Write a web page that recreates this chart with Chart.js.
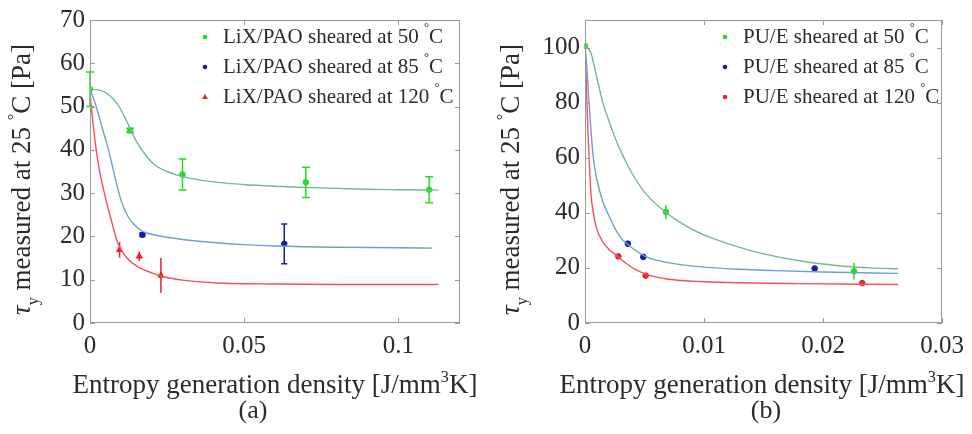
<!DOCTYPE html>
<html>
<head>
<meta charset="utf-8">
<script src="https://cdn.jsdelivr.net/npm/chart.js@4.4.0/dist/chart.umd.min.js"></script>
<style>
body { margin: 0; background: #fff; }
#wrap { position: relative; width: 972px; height: 434px; }
canvas { position: absolute; top: 0; }
#chart_a { left: 0; }
#chart_b { left: 486px; }
</style>
</head>
<body>
<div id="wrap">
<canvas id="chart_a" width="486" height="434"></canvas>
<canvas id="chart_b" width="486" height="434"></canvas>
</div>
<script>
// ---- panel (a): LiX/PAO ----
var lixXTicks = [0, 0.05, 0.1];
var lixXLabels = ['0', '0.05', '0.1'];
var lixYTicks = [0, 10, 20, 30, 40, 50, 60, 70];

var lixX50 = [0, 0.013, 0.030, 0.070, 0.110];
var lixY50 = [54, 44.5, 34.3, 32.5, 30.8];
var lixE50 = [4, 0.5, 3.6, 3.5, 3];
var lixX85 = [0.017, 0.063];
var lixY85 = [20.4, 18.3];
var lixE85 = [0.4, 4.6];
var lixX120 = [0.0096, 0.016, 0.023];
var lixY120 = [16.9, 15.4, 11];
var lixE120 = [1.8, 1.1, 4];

var lixFitX50 = [0, 0.003, 0.006, 0.009, 0.012, 0.015, 0.018, 0.021, 0.025, 0.03, 0.04, 0.05, 0.06, 0.07, 0.08, 0.09, 0.1, 0.113];
var lixFitY50 = [54, 53.8, 52.8, 50.5, 46.5, 42, 38.8, 36.5, 35, 33.8, 32.6, 32, 31.6, 31.3, 31.1, 30.9, 30.8, 30.7];
var lixFitX85 = [0, 0.002, 0.004, 0.006, 0.008, 0.010, 0.012, 0.014, 0.017, 0.02, 0.025, 0.03, 0.04, 0.05, 0.06, 0.08, 0.1, 0.111];
var lixFitY85 = [54, 50, 45, 40, 34, 28.5, 25, 23, 21.2, 20.5, 19.8, 19.3, 18.6, 18.1, 17.8, 17.5, 17.4, 17.3];
var lixFitX120 = [0, 0.001, 0.002, 0.003, 0.005, 0.007, 0.009, 0.012, 0.016, 0.02, 0.025, 0.03, 0.04, 0.06, 0.08, 0.113];
var lixFitY120 = [53, 46, 40, 35.5, 29, 23.5, 18.5, 15, 12.8, 11.6, 10.5, 9.9, 9.3, 9.0, 8.9, 8.9];

// ---- panel (b): PU/E ----
var pueXTicks = [0, 0.01, 0.02, 0.03];
var pueXLabels = ['0', '0.01', '0.02', '0.03'];
var pueYTicks = [0, 20, 40, 60, 80, 100];

var pueX50 = [0, 0.0068, 0.0226];
var pueY50 = [100.5, 40.3, 18.8];
var pueE50 = [1, 2.5, 3];
var pueX85 = [0.0036, 0.0049, 0.0193];
var pueY85 = [28.8, 24, 19.8];
var pueE85 = [1, 0.8, 0.6];
var pueX120 = [0.0028, 0.0051, 0.0233];
var pueY120 = [24.2, 17.2, 14.5];
var pueE120 = [0.5, 0.4, 0.8];

var pueFitX50 = [0, 0.0005, 0.001, 0.0015, 0.002, 0.0025, 0.003, 0.0035, 0.004, 0.005, 0.006, 0.007, 0.008, 0.009, 0.01, 0.012, 0.014, 0.016, 0.018, 0.02, 0.022, 0.024, 0.0263];
var pueFitY50 = [101, 98, 89, 80, 73.5, 67.5, 62.5, 58, 54, 47.5, 43, 39.5, 36.5, 34, 32, 28.8, 26.2, 24.2, 22.6, 21.4, 20.5, 20, 19.7];
var pueFitX85 = [0, 0.0002, 0.0004, 0.0007, 0.001, 0.0015, 0.002, 0.0025, 0.003, 0.0036, 0.0042, 0.005, 0.006, 0.008, 0.01, 0.013, 0.016, 0.02, 0.0263];
var pueFitY85 = [101, 90, 76, 60, 52, 44, 39, 34.5, 31, 28.5, 26.5, 24.3, 22.8, 21.2, 20.3, 19.5, 19, 18.5, 18];
var pueFitX120 = [0, 0.0001, 0.0002, 0.0003, 0.0005, 0.0007, 0.001, 0.0015, 0.002, 0.0028, 0.0035, 0.0045, 0.0055, 0.007, 0.01, 0.013, 0.018, 0.0263];
var pueFitY120 = [101, 88, 75, 64, 47, 40, 34, 29.5, 26.8, 24, 21.5, 18.8, 17.2, 15.9, 15, 14.6, 14.3, 14];

var SERIF = '"Liberation Serif", "Times New Roman", serif';
var TEXT = '#2b2b2b';
var GREEN_PT = '#22dd22', GREEN_LN = '#74b892';
var BLUE_PT = '#1a1aa8', BLUE_LN = '#6d9ed8';
var RED_PT = '#e8202a', RED_LN = '#f4505c';

function toPoints(xs, ys) {
	return xs.map(function(x, i) { return { x: x, y: ys[i] }; });
}

function pointSet(xs, ys, errs, color, style, cap) {
	return {
		data: toPoints(xs, ys),
		showLine: false,
		backgroundColor: color,
		borderColor: color,
		pointStyle: style,
		pointRadius: style == 'triangle' ? 3.5 : 2.8,
		borderWidth: 1,
		errors: errs,
		capWidth: cap
	};
}

function curveSet(xs, ys, color) {
	return {
		data: toPoints(xs, ys),
		showLine: true,
		borderColor: color,
		borderWidth: 1.4,
		pointRadius: 0,
		fill: false,
		cubicInterpolationMode: 'monotone'
	};
}

// draw text with raised / lowered small pieces (degree sign, cube, subscript)
function drawParts(ctx, parts, x, y, size) {
	var cx = x;
	parts.forEach(function(p) {
		var s = p.small ? size * 0.6 : size;
		ctx.font = (p.italic ? 'italic ' : '') + s + 'px ' + SERIF;
		var dy = p.sup ? -size * 0.42 : (p.sub ? size * 0.3 : 0);
		ctx.fillText(p.t, cx, y + dy);
		cx += ctx.measureText(p.t).width;
	});
	return cx - x;
}

function partsWidth(ctx, parts, size) {
	var w = 0;
	parts.forEach(function(p) {
		var s = p.small ? size * 0.6 : size;
		ctx.font = (p.italic ? 'italic ' : '') + s + 'px ' + SERIF;
		w += ctx.measureText(p.t).width;
	});
	return w;
}

function panelPlugin(info) {
	return {
		id: 'panel',
		beforeDatasetsDraw: function(chart) {
			//error bars
			var ctx = chart.ctx;
			var xs = chart.scales.x, ys = chart.scales.y;
			ctx.save();
			chart.data.datasets.forEach(function(ds) {
				if (!ds.errors) return;
				ctx.strokeStyle = ds.borderColor;
				ctx.lineWidth = 1.5;
				ds.data.forEach(function(p, i) {
					var px = xs.getPixelForValue(p.x);
					var t = ys.getPixelForValue(p.y + ds.errors[i]);
					var b = ys.getPixelForValue(p.y - ds.errors[i]);
					ctx.beginPath();
					ctx.moveTo(px, t);
					ctx.lineTo(px, b);
					if (ds.capWidth) {
						ctx.moveTo(px - ds.capWidth, t);
						ctx.lineTo(px + ds.capWidth, t);
						ctx.moveTo(px - ds.capWidth, b);
						ctx.lineTo(px + ds.capWidth, b);
					}
					ctx.stroke();
				});
			});
			ctx.restore();
		},
		afterDraw: function(chart) {
			var ctx = chart.ctx;
			var a = chart.chartArea;
			var xs = chart.scales.x, ys = chart.scales.y;
			ctx.save();

			//box + inward ticks
			ctx.strokeStyle = '#9a9a9a';
			ctx.lineWidth = 1;
			ctx.strokeRect(a.left + 0.5, a.top + 0.5, a.right - a.left - 1, a.bottom - a.top - 1);
			ctx.beginPath();
			ys.ticks.forEach(function(t) {
				var py = Math.round(ys.getPixelForValue(t.value)) + 0.5;
				ctx.moveTo(a.left, py); ctx.lineTo(a.left + 5, py);
				ctx.moveTo(a.right, py); ctx.lineTo(a.right - 5, py);
			});
			xs.ticks.forEach(function(t) {
				var px = Math.round(xs.getPixelForValue(t.value)) + 0.5;
				ctx.moveTo(px, a.bottom); ctx.lineTo(px, a.bottom - 5);
				ctx.moveTo(px, a.top); ctx.lineTo(px, a.top + 5);
			});
			ctx.stroke();

			//legend
			ctx.textBaseline = 'middle';
			ctx.textAlign = 'left';
			info.legend.forEach(function(row, i) {
				var ry = info.legendY + i * info.legendGap;
				ctx.fillStyle = row.color;
				ctx.beginPath();
				if (row.style == 'triangle') {
					ctx.moveTo(info.legendMarkX, ry - 3);
					ctx.lineTo(info.legendMarkX + 3, ry + 2);
					ctx.lineTo(info.legendMarkX - 3, ry + 2);
					ctx.closePath();
				} else {
					ctx.arc(info.legendMarkX, ry, 2.3, 0, Math.PI * 2);
				}
				ctx.fill();
				ctx.fillStyle = TEXT;
				drawParts(ctx, [
					{ t: row.text + ' ' },
					{ t: '\u00b0', small: true, sup: true },
					{ t: 'C' }
				], info.legendTextX, ry, 21);
			});

			//x axis title
			var xParts = [
				{ t: 'Entropy generation density [J/mm' },
				{ t: '3', small: true, sup: true },
				{ t: 'K]' }
			];
			ctx.textBaseline = 'alphabetic';
			var w = partsWidth(ctx, xParts, 27);
			drawParts(ctx, xParts, info.xTitleX - w / 2, 393, 27);

			//panel label
			ctx.font = '26px ' + SERIF;
			ctx.textAlign = 'center';
			ctx.fillText(info.panel, info.panelX, 418);
			ctx.textAlign = 'left';

			//y axis title, rotated
			var yParts = [
				{ t: '\u03c4', italic: true },
				{ t: 'y', sub: true, small: true },
				{ t: ' measured at 25 ' },
				{ t: '\u00b0', small: true, sup: true },
				{ t: 'C [Pa]' }
			];
			var yw = partsWidth(ctx, yParts, 27);
			ctx.translate(info.yTitleX, (a.top + a.bottom) / 2 + 8);
			ctx.rotate(-Math.PI / 2);
			drawParts(ctx, yParts, -yw / 2, 0, 27);
			ctx.restore();
		}
	};
}

function makeChart(id, datasets, sc, info) {
	var ctx = document.getElementById(id).getContext('2d');
	return new Chart(ctx, {
		type: 'scatter',
		data: { datasets: datasets },
		options: {
			responsive: false,
			animation: false,
			devicePixelRatio: 1,
			layout: { padding: { top: 15, right: sc.padRight, left: 0, bottom: 0 } },
			plugins: { legend: { display: false }, tooltip: { enabled: false } },
			scales: {
				x: {
					type: 'linear',
					min: 0,
					max: sc.xMax,
					grid: { display: false, drawTicks: false },
					border: { display: false },
					afterBuildTicks: function(s) { s.ticks = sc.xTicks.map(function(v) { return { value: v }; }); },
					afterFit: function(s) { s.height = 111; },
					ticks: {
						padding: 8,
						color: TEXT,
						font: { family: SERIF, size: 25 },
						maxRotation: 0,
						callback: function(v, i) { return sc.xLabels[i]; }
					}
				},
				y: {
					type: 'linear',
					min: 0,
					max: sc.yMax,
					grid: { display: false, drawTicks: false },
					border: { display: false },
					afterBuildTicks: function(s) { s.ticks = sc.yTicks.map(function(v) { return { value: v }; }); },
					afterFit: function(s) { s.width = sc.yWidth; },
					ticks: {
						padding: 5,
						color: TEXT,
						font: { family: SERIF, size: 25 },
						callback: function(v) { return String(v); }
					}
				}
			}
		},
		plugins: [panelPlugin(info)]
	});
}

window.onload = function() {
	makeChart('chart_a', [
		curveSet(lixFitX50, lixFitY50, GREEN_LN),
		curveSet(lixFitX85, lixFitY85, BLUE_LN),
		curveSet(lixFitX120, lixFitY120, RED_LN),
		pointSet(lixX50, lixY50, lixE50, GREEN_PT, 'circle', 4),
		pointSet(lixX85, lixY85, lixE85, BLUE_PT, 'circle', 3),
		pointSet(lixX120, lixY120, lixE120, RED_PT, 'triangle', 0)
	], {
		xMax: 0.12, yMax: 70, xTicks: lixXTicks, xLabels: lixXLabels, yTicks: lixYTicks,
		yWidth: 90, padRight: 26
	}, {
		legend: [
			{ text: 'LiX/PAO sheared at 50', color: GREEN_PT, style: 'circle' },
			{ text: 'LiX/PAO sheared at 85', color: BLUE_PT, style: 'circle' },
			{ text: 'LiX/PAO sheared at 120', color: RED_PT, style: 'triangle' }
		],
		legendMarkX: 205, legendTextX: 223, legendY: 37, legendGap: 30,
		xTitleX: 275, panel: '(a)', panelX: 253, yTitleX: 30
	});

	makeChart('chart_b', [
		curveSet(pueFitX50, pueFitY50, GREEN_LN),
		curveSet(pueFitX85, pueFitY85, BLUE_LN),
		curveSet(pueFitX120, pueFitY120, RED_LN),
		pointSet(pueX50, pueY50, pueE50, GREEN_PT, 'circle', 0),
		pointSet(pueX85, pueY85, pueE85, BLUE_PT, 'circle', 0),
		pointSet(pueX120, pueY120, pueE120, RED_PT, 'circle', 0)
	], {
		xMax: 0.03, yMax: 110, xTicks: pueXTicks, xLabels: pueXLabels, yTicks: pueYTicks,
		yWidth: 99, padRight: 30
	}, {
		legend: [
			{ text: 'PU/E sheared at 50', color: GREEN_PT, style: 'circle' },
			{ text: 'PU/E sheared at 85', color: BLUE_PT, style: 'circle' },
			{ text: 'PU/E sheared at 120', color: RED_PT, style: 'circle' }
		],
		legendMarkX: 239, legendTextX: 257, legendY: 37, legendGap: 30,
		xTitleX: 276, panel: '(b)', panelX: 280, yTitleX: 33
	});
};
</script>
</body>
</html>
